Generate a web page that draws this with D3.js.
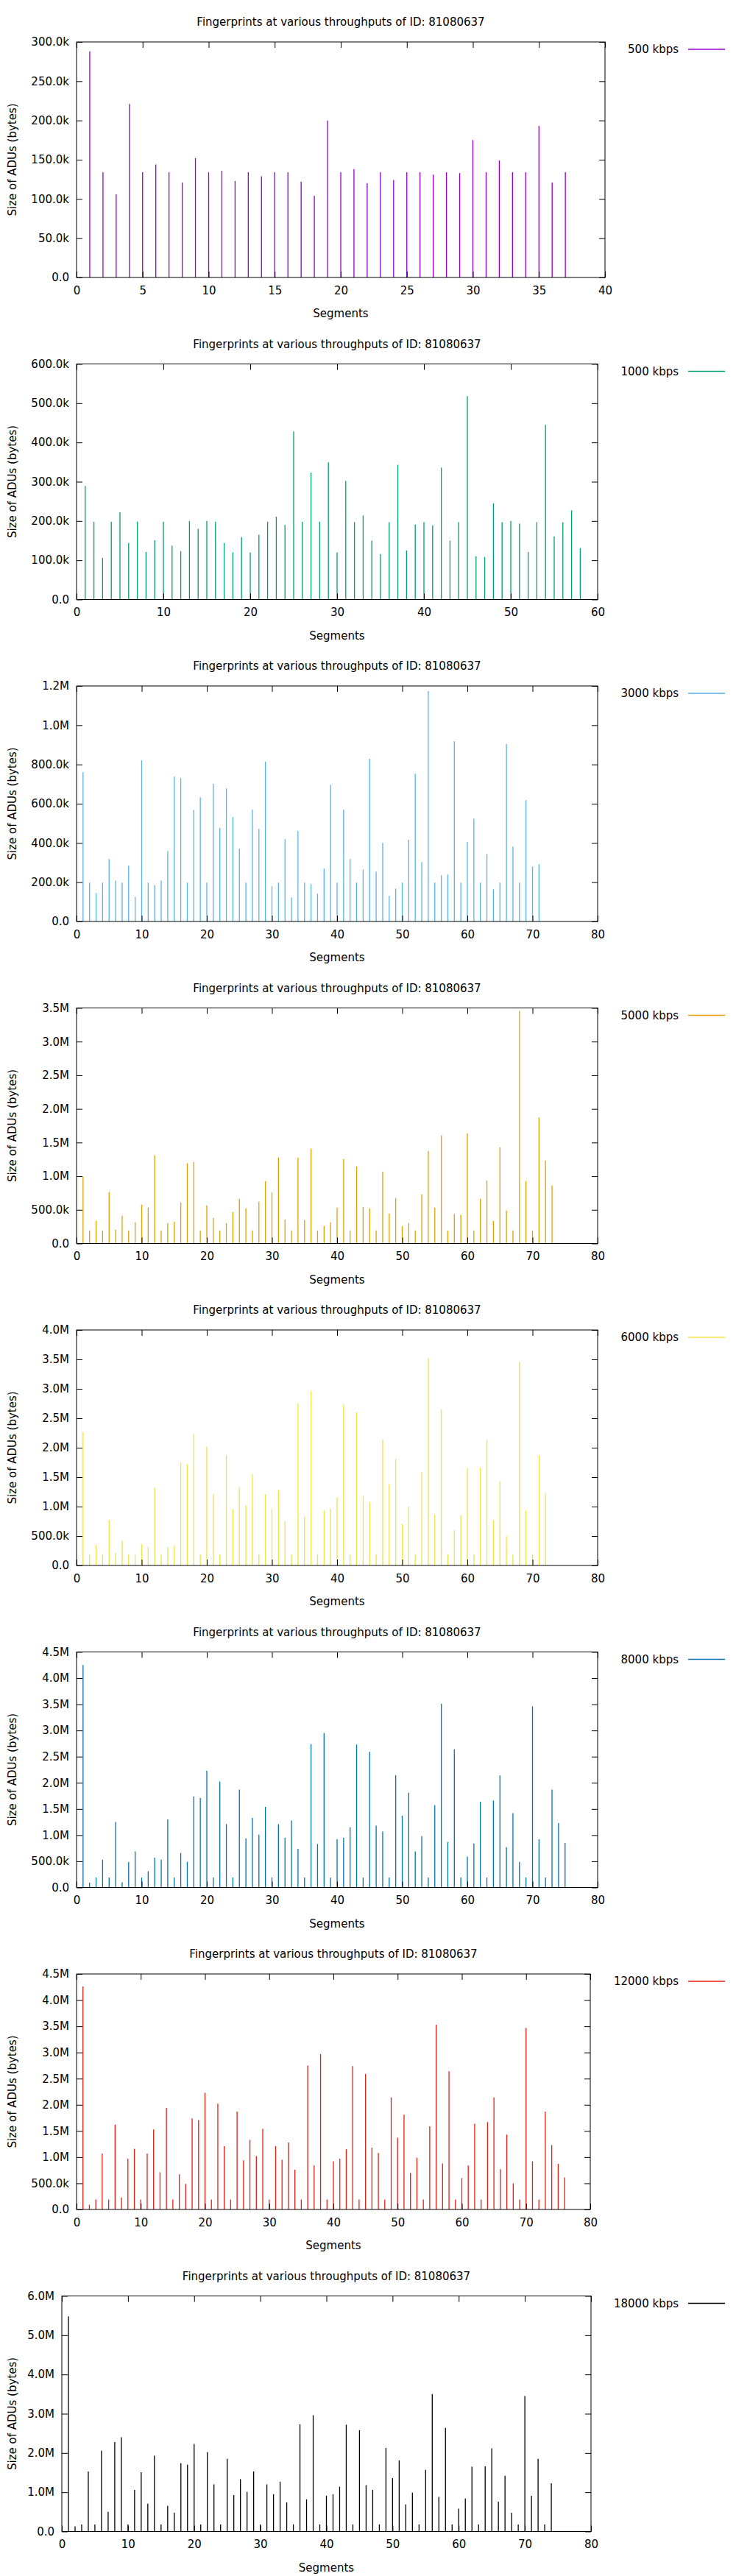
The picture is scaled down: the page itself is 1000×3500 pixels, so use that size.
<!DOCTYPE html>
<html>
<head>
<meta charset="utf-8">
<script src="https://cdnjs.cloudflare.com/ajax/libs/d3/7.8.5/d3.min.js"></script>
<style>
  body { margin: 0; background: #fff; }
  text { font-family: "DejaVu Sans", sans-serif; fill: #000; }
</style>
</head>
<body>
<div id="chart"></div>
<script>
// ADU sizes per segment, in thousands of bytes
var s500 = [288,134,106,221,134,144,134,121,152,134,136,123,134,129,134,134,122,104,200,
  134,138,120,134,124,134,134,131,134,133,175,134,149,134,134,193,121,134];
var s1000 = [289,198,106,198,222,144,198,121,151,198,137,123,200,180,200,198,144,120,159,120,
  165,198,211,190,428,198,323,198,349,120,302,197,214,150,116,197,343,125,191,197,189,336,
  150,197,518,110,108,245,197,200,193,121,197,445,161,197,227,131];
var s3000 = [761,198,145,198,318,208,198,284,126,821,198,186,208,359,738,731,198,568,633,198,
  701,476,678,532,370,198,569,472,814,179,198,419,123,461,198,190,141,269,697,198,569,
  318,198,265,829,254,400,130,168,198,416,753,303,1174,198,235,239,919,198,404,524,198,
  344,164,198,904,382,198,618,280,292];
var s5000 = [993,193,336,193,763,204,412,193,314,577,533,1310,193,303,325,609,1190,1210,193,566,
  380,193,303,467,664,522,193,620,927,763,1277,358,193,1277,347,1409,193,259,314,533,1255,
  193,1146,544,522,193,1069,445,675,259,303,193,730,1376,533,1606,193,434,423,1639,193,664,
  938,336,1431,489,193,3456,927,193,1869,1234,861];
var s6000 = [2270,190,350,190,770,210,420,190,180,360,310,1320,190,310,330,1750,1720,2230,190,2020,
  1210,190,1870,950,1330,1020,1550,190,1210,960,1280,750,190,2750,830,2960,190,930,970,1160,2730,
  190,2600,1180,1080,190,2130,1380,1810,700,1000,190,1580,3520,870,2650,190,600,850,1650,190,
  1660,2130,770,1430,500,190,3460,930,190,1870,1230];
var s8000 = [4250,90,190,530,190,1250,100,490,690,190,310,570,530,1300,190,660,490,1740,1710,2230,
  190,2020,1210,190,1870,940,1330,1010,1540,190,1210,950,1280,740,190,2740,830,2950,190,920,950,
  1150,2730,190,2590,1180,1070,190,2140,1370,1810,690,980,190,1570,3510,870,2640,190,590,840,
  1640,190,1660,2140,770,1420,490,190,3460,920,190,1870,1230,850];
var s12000 = [4260,90,190,1070,190,1620,230,970,1160,190,1070,1530,710,1940,190,670,490,1740,1710,2230,
  190,2020,1210,190,1870,940,1330,1020,1540,190,1210,950,1280,760,190,2750,840,2970,190,920,970,
  1150,2740,190,2590,1180,1080,190,2140,1370,1810,700,990,190,1590,3530,880,2640,190,600,840,
  1640,190,1670,2140,770,1430,500,190,3470,920,190,1870,1230,870,610];
var s18000 = [5480,130,180,1530,180,2060,500,2280,2400,180,1060,1510,710,1930,180,650,480,1740,1700,2230,
  180,2020,1200,180,1850,930,1330,1010,1530,180,1200,950,1270,740,180,2730,820,2960,180,910,
  950,1140,2720,180,2580,1180,1060,180,2130,1360,1810,690,990,180,1570,3500,880,2640,180,580,
  840,1650,180,1660,2120,760,1420,480,180,3450,910,1850,180,1230];

var labels = ["500 kbps","1000 kbps","3000 kbps","5000 kbps","6000 kbps","8000 kbps","12000 kbps","18000 kbps"];
var series = [s500, s1000, s3000, s5000, s6000, s8000, s12000, s18000];
var yMax  = [300, 600, 1200, 3500, 4000, 4500, 4500, 6000];
var yStep = [50, 100, 200, 500, 500, 500, 500, 1000];
var xMax  = [40, 60, 80, 80, 80, 80, 80, 80];
var xStep = [5, 10, 10, 10, 10, 10, 10, 10];
var colors = ["#9400d3","#009e73","#56b4e9","#e69f00","#f0e442","#0072b2","#e51e10","#000000"];
var title = "Fingerprints at various throughputs of ID: 81080637";

// plot frame per panel (pixels)
var lefts  = [104,104,104,104,104,104,104,84];
var rights = [822,812,812,812,812,812,802,803];
var panelH = 437.5, plotTop = 57, plotBottom = 377;

function fmt(k) {
    if (k === 0) return "0.0";
    if (k < 1000) return k.toFixed(1) + "k";
    return (k / 1000).toFixed(1) + "M";
}

var svg = d3.select("#chart").append("svg")
    .attr("width", 1000).attr("height", 3500);

series.forEach(function (data, i) {
    var g = svg.append("g").attr("transform", "translate(0," + (i * panelH) + ")");
    var x = d3.scaleLinear().domain([0, xMax[i]]).range([lefts[i], rights[i]]);
    var y = d3.scaleLinear().domain([0, yMax[i]]).range([plotBottom, plotTop]);
    var yt = d3.range(0, yMax[i] + 1e-6, yStep[i]);
    var xt = d3.range(0, xMax[i] + 1e-6, xStep[i]);

    // impulses
    g.selectAll(".imp").data(data).enter().append("line")
        .attr("x1", function (d, j) { return x(j + 1); })
        .attr("x2", function (d, j) { return x(j + 1); })
        .attr("y1", y(0))
        .attr("y2", function (d) { return y(d); })
        .style("stroke", colors[i]).style("stroke-width", 1.3);

    var axes = [
        [d3.axisLeft(y).tickValues(yt).tickFormat(fmt).tickPadding(10), lefts[i], 0],
        [d3.axisRight(y).tickValues(yt).tickFormat(""), rights[i], 0],
        [d3.axisBottom(x).tickValues(xt).tickFormat(d3.format("d")).tickPadding(12), 0, plotBottom],
        [d3.axisTop(x).tickValues(xt).tickFormat(""), 0, plotTop]
    ];
    axes.forEach(function (a) {
        var ag = g.append("g").attr("transform", "translate(" + a[1] + "," + a[2] + ")")
            .call(a[0].tickSize(-8));
        ag.select(".domain").remove();
        ag.selectAll("line").style("stroke", "#000");
        ag.selectAll("text").style("font-size", "15px").style("font-family", "DejaVu Sans");
    });

    g.append("rect")
        .attr("x", lefts[i]).attr("y", plotTop)
        .attr("width", rights[i] - lefts[i]).attr("height", plotBottom - plotTop)
        .style("fill", "none").style("stroke", "#000").style("stroke-width", 1);

    var cx = (lefts[i] + rights[i]) / 2;
    g.append("text").attr("x", cx).attr("y", 35)
        .attr("text-anchor", "middle").style("font-size", "15px").text(title);
    g.append("text").attr("x", cx).attr("y", 431)
        .attr("text-anchor", "middle").style("font-size", "15px").text("Segments");
    g.append("text")
        .attr("transform", "translate(22," + ((plotTop + plotBottom) / 2) + ") rotate(-90)")
        .attr("text-anchor", "middle").style("font-size", "15px").text("Size of ADUs (bytes)");

    // legend
    g.append("text").attr("x", 922).attr("y", 72)
        .attr("text-anchor", "end").style("font-size", "15px").text(labels[i]);
    g.append("line").attr("x1", 935).attr("x2", 985).attr("y1", 67).attr("y2", 67)
        .style("stroke", colors[i]).style("stroke-width", 1.3);
});
</script>
</body>
</html>
